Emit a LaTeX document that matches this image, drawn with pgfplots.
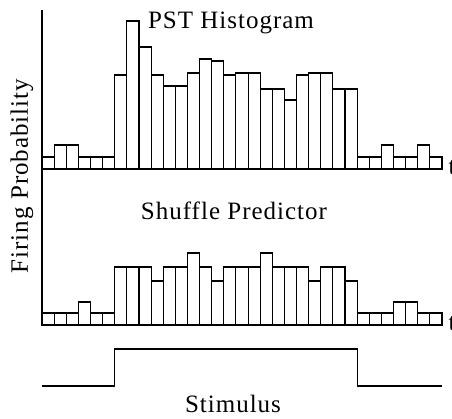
\documentclass[border=0pt]{standalone}
\usepackage{pgfplots}
\pgfplotsset{compat=1.18}
\usepackage{fontspec}
\setmainfont{Liberation Serif}[LetterSpace=4]
\begin{document}
\begin{tikzpicture}
\useasboundingbox (0,0) rectangle (452bp,419bp);
\pgfplotsset{panel/.style={scale only axis, axis lines=none, xmin=0, xmax=33, ymin=0,
  enlargelimits=false, clip=false, width=400bp, anchor=south west}}
% PST histogram
\begin{axis}[panel, at={(42bp,250bp)}, height=159bp, ymax=159, ybar interval=1]
\addplot[fill=white, draw=black, line width=1.1bp] coordinates {
(0,12)(1,24)(2,24)(3,12)(4,12)(5,12)(6,94)(7,148)(8,122)(9,94)(10,83)(11,83)
(12,96)(13,110)(14,108)(15,94)(16,96)(17,96)(18,80)(19,80)(20,69)(21,94)(22,96)
(23,96)(24,80)(25,80)(26,12)(27,12)(28,24)(29,12)(30,12)(31,24)(32,12)(33,12)};
\end{axis}
% Shuffle predictor
\begin{axis}[panel, at={(42bp,94bp)}, height=100bp, ymax=100, ybar interval=1]
\addplot[fill=white, draw=black, line width=1.1bp] coordinates {
(0,12)(1,12)(2,12)(3,23)(4,12)(5,12)(6,58)(7,58)(8,58)(9,44)(10,58)(11,58)
(12,72)(13,58)(14,44)(15,58)(16,58)(17,58)(18,72)(19,58)(20,58)(21,58)(22,44)
(23,58)(24,58)(25,44)(26,12)(27,12)(28,12)(29,23)(30,23)(31,12)(32,12)(33,12)};
\end{axis}
% Stimulus
\begin{axis}[panel, at={(42bp,33bp)}, height=37bp, ymax=1]
\addplot[black, line width=1.1bp, no marks] coordinates {
(0,0)(6,0)(6,1)(26,1)(26,0)(33,0)};
\end{axis}
\draw[line width=1.1bp] (42bp,94bp) -- (42bp,409bp);
\fontsize{25bp}{29bp}\selectfont
\node at (231bp,396bp) {PST Histogram};
\node at (234bp,208bp) {Shuffle Predictor};
\node at (233bp,15bp) {Stimulus};
\node[rotate=90] at (22bp,243bp) {Firing Probability};
\node[anchor=base west, inner sep=0pt] at (448.5bp,244bp) {t};
\node[anchor=base west, inner sep=0pt] at (448.5bp,88bp) {t};
\end{tikzpicture}
\end{document}
